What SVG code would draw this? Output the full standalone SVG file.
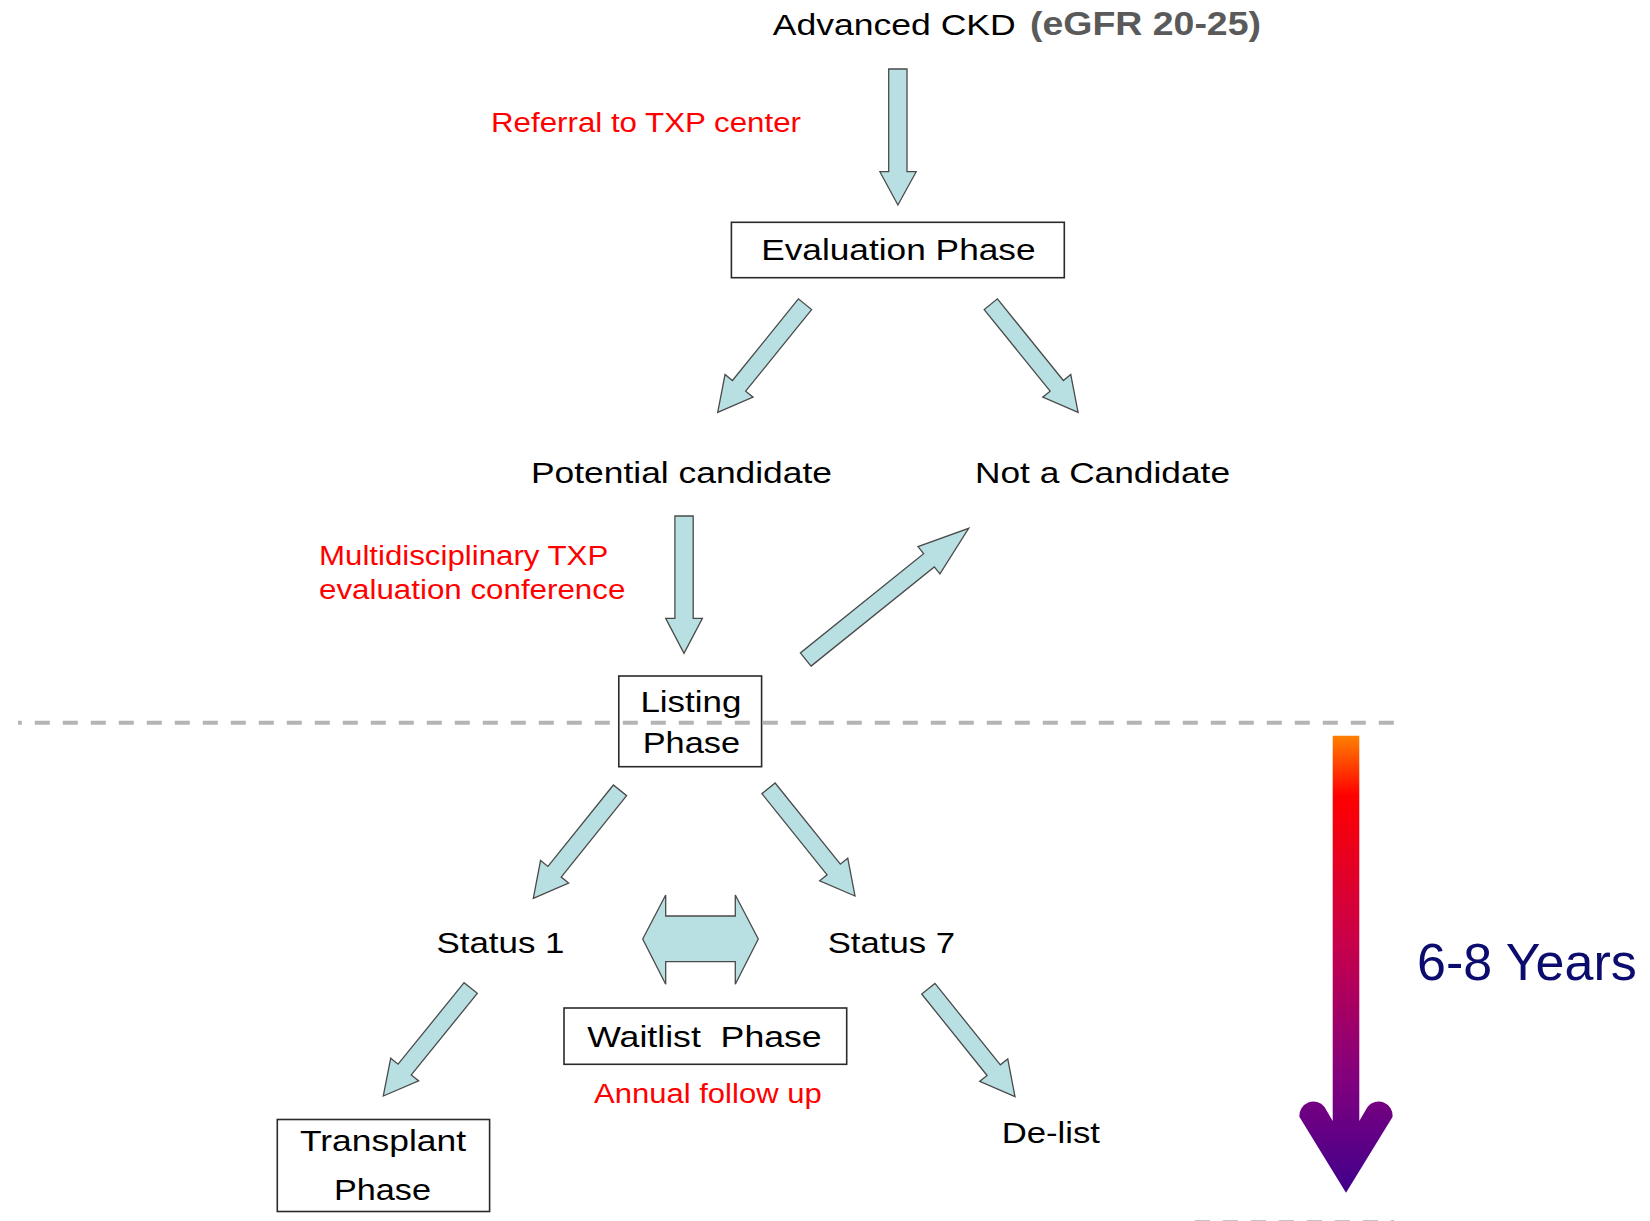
<svg xmlns="http://www.w3.org/2000/svg" width="1650" height="1221" viewBox="0 0 1650 1221">
<style>
.t{font-family:"Liberation Sans",Arial,sans-serif;font-size:30px;fill:#000}
.r{font-family:"Liberation Sans",Arial,sans-serif;font-size:27px;fill:#ff0000}
.box{fill:#fff;stroke:#2a2a2a;stroke-width:1.6}
.arr{fill:#b8dfe1;stroke:#4a4a4a;stroke-width:1.3;stroke-linejoin:miter}
</style>
<defs>
<linearGradient id="timeGrad" gradientUnits="userSpaceOnUse" x1="0" y1="736" x2="0" y2="1193">
<stop offset="0" stop-color="#ff8000"/>
<stop offset="0.13" stop-color="#ff0000"/>
<stop offset="0.45" stop-color="#c8004a"/>
<stop offset="0.75" stop-color="#82007e"/>
<stop offset="1" stop-color="#40008c"/>
</linearGradient>
</defs>
<rect width="1650" height="1221" fill="#fff"/>

<g id="title">
<text class="t" x="772.7" y="35" textLength="243" lengthAdjust="spacingAndGlyphs">Advanced CKD</text>
<text x="1030" y="35" font-family="Liberation Sans, Arial, sans-serif" font-size="33" font-weight="bold" fill="#5a5a5a" textLength="231" lengthAdjust="spacingAndGlyphs">(eGFR 20-25)</text>
</g>

<g id="label-referral">
<text class="r" x="491" y="132" textLength="310" lengthAdjust="spacingAndGlyphs">Referral to TXP center</text>
</g>

<g id="evaluation-phase">
<rect class="box" x="731.4" y="222.3" width="332.9" height="55.4"/>
<text class="t" x="761.2" y="260" textLength="274.4" lengthAdjust="spacingAndGlyphs">Evaluation Phase</text>
</g>

<g id="potential-candidate">
<text class="t" x="531" y="483.3" textLength="301" lengthAdjust="spacingAndGlyphs">Potential candidate</text>
</g>

<g id="not-a-candidate">
<text class="t" x="975" y="483.3" textLength="255" lengthAdjust="spacingAndGlyphs">Not a Candidate</text>
</g>

<g id="label-multidisciplinary">
<text class="r" x="319" y="565" textLength="289.3" lengthAdjust="spacingAndGlyphs">Multidisciplinary TXP</text>
<text class="r" x="319" y="599.3" textLength="306.3" lengthAdjust="spacingAndGlyphs">evaluation conference</text>
</g>

<g id="listing-phase">
<rect class="box" x="618.8" y="676" width="142.8" height="90.7"/>
<text class="t" x="640.4" y="711.7" textLength="101" lengthAdjust="spacingAndGlyphs">Listing</text>
<text class="t" x="642.7" y="753.3" textLength="97.3" lengthAdjust="spacingAndGlyphs">Phase</text>
</g>

<g id="status-1">
<text class="t" x="436.5" y="952.7" textLength="128" lengthAdjust="spacingAndGlyphs">Status 1</text>
</g>

<g id="status-7">
<text class="t" x="827.7" y="952.7" textLength="127.3" lengthAdjust="spacingAndGlyphs">Status 7</text>
</g>

<g id="waitlist-phase">
<rect class="box" x="564" y="1008" width="282.7" height="56.3"/>
<text class="t" x="587.3" y="1047.3" textLength="234.4" lengthAdjust="spacingAndGlyphs" xml:space="preserve">Waitlist  Phase</text>
</g>

<g id="label-annual">
<text class="r" x="594" y="1103.3" textLength="227.7" lengthAdjust="spacingAndGlyphs">Annual follow up</text>
</g>

<g id="transplant-phase">
<rect class="box" x="277.3" y="1119.5" width="212.3" height="92"/>
<text class="t" x="300" y="1151" textLength="166" lengthAdjust="spacingAndGlyphs">Transplant</text>
<text class="t" x="334" y="1200" textLength="97" lengthAdjust="spacingAndGlyphs">Phase</text>
</g>

<g id="de-list">
<text class="t" x="1001.7" y="1143.3" textLength="98.3" lengthAdjust="spacingAndGlyphs">De-list</text>
</g>

<g id="connectors">
<polygon class="arr" points="888.7,69 907,69 907,171.7 916.2,171.7 897.9,205 879.9,171.7 888.7,171.7"/>
<polygon class="arr" points="798.39,298.86 732.44,380.51 725.05,374.55 717.7,412.3 753.05,397.15 745.66,391.19 811.61,309.54"/>
<polygon class="arr" points="997.41,298.86 1063.36,380.51 1070.75,374.55 1078.1,412.3 1042.75,397.15 1050.14,391.19 984.19,309.54"/>
<polygon class="arr" points="674.9,516 693.2,516 693.2,618.3 702.4,618.3 684,653.3 665.7,618.3 674.9,618.3"/>
<polygon class="arr" points="811.03,666.12 934.3,566.9 939.94,573.91 968.7,528.3 918,546.65 923.64,553.66 800.37,652.88"/>
<polygon class="arr" points="613.37,784.98 547.95,866.46 540.54,860.51 533.3,898.3 568.62,883.05 561.21,877.1 626.63,795.62"/>
<polygon class="arr" points="761.87,793.62 827.09,874.8 819.68,880.75 855,896 847.76,858.21 840.35,864.16 775.13,782.98"/>
<polygon class="arr" points="642.7,939 665.7,895 665.7,916 735.3,916 735.3,895 758.3,939 735.3,984.3 735.3,961.7 665.7,961.7 665.7,984.3"/>
<polygon class="arr" points="464.09,982.65 398.08,1064.2 390.69,1058.23 383.3,1096 418.69,1080.87 411.3,1074.9 477.31,993.35"/>
<polygon class="arr" points="921.67,994.02 987.09,1075.5 979.68,1081.45 1015,1096.7 1007.76,1058.91 1000.35,1064.86 934.93,983.38"/>
</g>

<g id="timeline">
<line x1="18" y1="722.7" x2="1394" y2="722.7" stroke="#b4b4b4" stroke-width="4" stroke-dasharray="15 13" stroke-dashoffset="11.2"/>
<line x1="1192" y1="1222" x2="1394" y2="1222" stroke="#c4c4c4" stroke-width="4" stroke-dasharray="15 13" stroke-dashoffset="-2.8"/>
<path d="M1346,1192.7 L1299.5,1117 A14,14 0 0 1 1324.5,1107 L1332.7,1121 L1332.7,735.7 L1359.3,735.7 L1359.3,1121 L1367.5,1107 A14,14 0 0 1 1392.5,1117 Z" fill="url(#timeGrad)"/>
<text x="1417" y="980" font-family="Liberation Sans, Arial, sans-serif" font-size="52" fill="#0c0c6e">6-8 Years</text>
</g>
</svg>
